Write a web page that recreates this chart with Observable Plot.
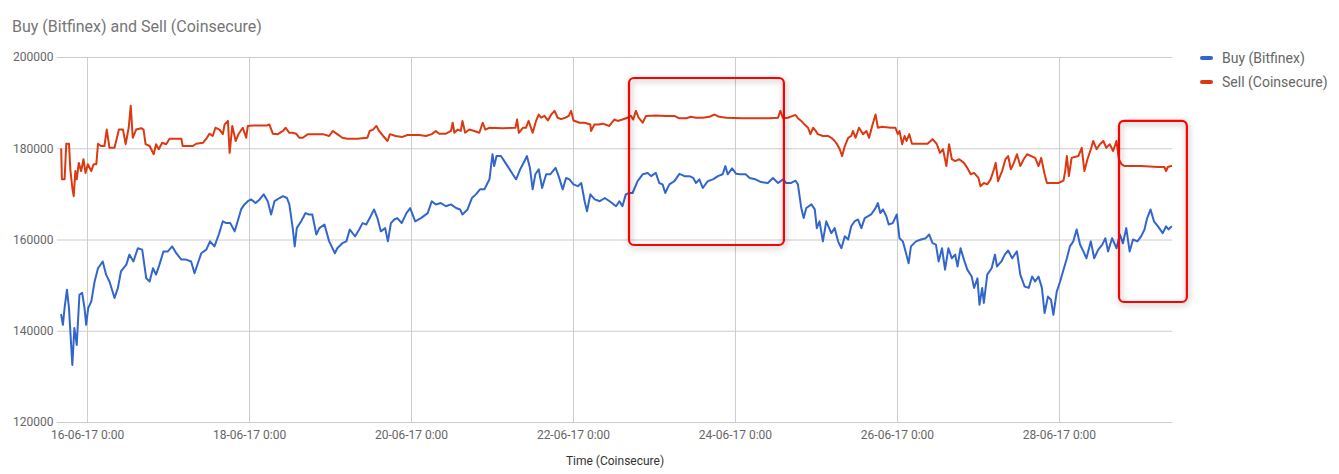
<!DOCTYPE html>
<html>
<head>
<meta charset="utf-8">
<script src="https://cdn.jsdelivr.net/npm/d3@7"></script>
<script src="https://cdn.jsdelivr.net/npm/@observablehq/plot@0.6"></script>
<style>
  body { margin: 0; background: #fff; font-family: Roboto, "Noto Sans", sans-serif; }
  #wrap { position: relative; width: 1339px; height: 474px; }
  #title { height: 40px; box-sizing: border-box; padding: 17px 0 0 12px; font-size: 16px; line-height: 20px; color: #757575; }
  .leg { position: absolute; left: 1200px; font-size: 14px; color: #666; display: flex; align-items: center; height: 18px; }
  .leg span.sw { display: inline-block; width: 13px; height: 4px; border-radius: 2px; margin-right: 9px; }
  svg g[aria-label="rect"] rect { filter: drop-shadow(1px 2px 3px rgba(0,0,0,0.35)); }
</style>
</head>
<body>
<div id="wrap">
  <div id="title"></div>
  <div id="chart"></div>
  <div id="legend"></div>
</div>
<script>
const titleText = "Buy (Bitfinex) and Sell (Coinsecure)";
const seriesNames = ["Buy (Bitfinex)", "Sell (Coinsecure)"];
const seriesColors = ["#3366cc", "#dc3912"];
const xAxisTitle = "Time (Coinsecure)";

// time origin: 16-06-17 0:00; hours below are offsets from it
const originDate = [2017, 5, 16];
const xDomainHours = [-8.9, 321.5];
const xTickHours = [0, 48, 96, 144, 192, 240, 288];
const xTickLabels = ["16-06-17 0:00", "18-06-17 0:00", "20-06-17 0:00", "22-06-17 0:00", "24-06-17 0:00", "26-06-17 0:00", "28-06-17 0:00"];
const yDomain = [120000, 200000];
const yTicks = [120000, 140000, 160000, 180000, 200000];

const buyHours = [-7.8,-7.3,-6.8,-6.1,-5.5,-4.8,-4.5,-3.9,-3.2,-2.4,-1.6,-0.9,-0.4,0.2,1.1,2.1,3.1,4.5,5.5,6.5,8.0,9.0,9.9,11.5,12.4,13.6,14.9,16.2,17.4,18.4,19.4,20.3,21.3,22.5,23.8,25.1,26.3,27.8,29.2,30.7,31.7,32.7,33.7,35.2,36.3,37.6,38.9,40.1,41.1,42.3,43.6,44.5,45.5,46.5,47.5,48.5,49.8,51.0,52.2,53.4,54.4,55.4,56.9,57.9,59.1,59.8,60.8,61.4,62.0,63.3,64.6,65.6,66.6,67.8,68.7,70.2,71.6,73.3,74.0,75.5,76.7,77.7,79.3,80.5,81.5,82.6,83.9,84.9,85.9,86.9,88.2,89.0,89.9,90.9,91.8,93.1,94.5,95.6,97.1,98.8,100.8,102.0,103.2,104.7,106.2,107.7,109.2,110.4,111.1,112.6,113.9,115.1,116.3,117.6,119.1,120.0,120.5,121.2,122.5,123.5,124.8,126.0,127.0,128.2,129.5,130.2,131.1,131.9,132.7,133.7,134.7,135.9,137.1,138.7,139.6,140.8,141.8,142.8,144.0,145.3,146.3,147.3,148.0,149.0,150.3,151.8,153.3,155.4,156.6,157.6,158.5,159.5,160.5,161.5,163.0,164.5,166.0,167.0,168.4,169.4,170.4,171.2,172.4,173.9,175.4,176.9,178.3,179.5,180.3,181.3,182.3,183.8,185.3,186.8,188.2,189.0,189.7,191.0,192.2,193.4,195.0,196.2,197.9,199.6,201.6,203.1,204.6,206.1,207.0,208.5,209.8,210.5,211.5,212.2,213.0,214.5,215.5,216.1,216.9,217.9,218.9,220.4,221.4,222.4,223.4,224.4,225.4,226.3,227.3,228.3,229.3,230.3,232.2,233.5,234.2,234.9,235.7,236.7,237.4,238.6,239.8,240.6,241.6,242.4,243.3,244.0,245.5,247.0,248.4,249.4,250.4,251.4,252.2,253.2,254.1,255.1,256.1,257.1,257.8,258.7,259.7,260.7,262.0,262.7,263.7,264.3,265.1,265.6,266.6,267.9,268.9,269.5,270.8,271.8,272.8,274.0,275.4,276.4,277.7,278.9,279.9,280.8,281.8,282.8,283.6,284.6,285.5,286.2,287.2,288.2,289.2,290.2,291.1,292.1,293.1,294.1,295.1,296.0,297.3,298.3,299.5,300.7,301.6,302.4,303.6,304.9,305.9,306.8,307.8,308.8,309.8,311.1,312.2,313.2,314.0,315.0,316.0,317.2,318.6,319.6,320.3,321.1];
const buyValues = [143600,141400,145100,149100,145100,136300,132600,140700,137000,148000,148400,145100,141400,145100,146500,150900,153800,155300,152400,150900,147300,149500,153100,154600,156800,155300,158200,157900,151600,150900,153800,152400,154600,157500,157500,158600,157100,155700,155700,155300,152700,154900,157100,157900,159700,158600,161200,164100,163700,163700,161900,164100,166700,167800,168500,168900,168100,168900,170000,168500,165600,168500,169200,169600,169200,167800,162600,158600,162600,164100,165900,165600,165600,161200,162600,163400,159700,157100,158200,159300,159700,162300,160800,162300,163700,163400,165200,166700,164800,161900,162600,159700,163700,164500,164800,163700,165900,167000,164100,164800,165900,168500,167800,168100,167400,167800,167000,166700,165600,166700,169200,170000,171100,171100,173300,178800,176200,178400,178400,177300,175800,174400,173300,175500,177300,178400,175800,171100,174400,175500,171400,174400,174400,175800,174000,171100,173600,173300,172200,171800,172500,168500,166300,170000,168900,168500,169200,168100,167400,168500,167400,170000,170300,170300,172900,174400,174700,174000,174700,172500,172200,170300,172200,172900,174500,174000,174000,173600,172500,173300,171400,172900,173300,174000,174400,176200,174400,175700,174500,174400,174400,173600,173300,172700,172500,173600,172500,173300,172500,172500,173000,172200,167000,164800,167000,167800,166700,162600,164100,159700,164100,161500,162600,159700,158200,160800,160100,163000,164100,164500,162600,164800,165600,167000,168100,165900,166700,165200,163400,163700,165600,160400,159700,157500,154900,158600,159700,160100,160400,161200,159300,159000,155300,158200,153500,158200,156000,156800,154200,158200,155700,153500,152000,149500,151600,145800,149500,146200,152400,153800,156800,154200,155300,156800,157700,156000,157500,152400,149800,149500,152000,150900,152000,149500,144000,147600,146900,143600,148700,150900,153500,156000,158600,159700,162300,159000,157500,156000,159700,156000,157900,159000,160400,157500,160400,158200,161200,159300,162600,157500,160100,159700,160800,162300,164800,166700,164100,163000,161500,163000,162300,162900];

const sellHours = [-7.8,-7.6,-6.8,-6.3,-5.5,-5.1,-4.5,-4.1,-3.6,-3.2,-2.6,-1.9,-1.2,-0.6,0.1,1.1,1.8,2.6,3.1,4.0,5.0,5.7,6.5,8.0,9.3,10.5,11.3,12.2,12.8,13.4,14.4,15.9,16.6,17.2,18.4,19.6,20.3,21.1,22.1,23.3,24.3,26.3,27.8,28.2,30.2,31.2,32.2,34.2,35.4,36.1,37.1,37.9,39.1,40.1,40.6,41.6,42.1,42.9,43.9,44.8,46.0,47.0,47.5,49.0,51.0,53.1,53.9,54.9,56.4,57.9,58.7,59.8,60.8,61.8,62.8,63.8,65.3,67.3,69.7,71.6,72.7,74.0,75.5,77.0,80.0,82.9,83.6,84.6,85.6,86.4,87.6,88.9,89.6,91.3,93.3,94.8,98.3,100.3,102.0,103.2,104.2,106.2,107.7,108.2,108.7,109.7,110.6,111.1,111.9,113.1,114.6,116.1,117.1,117.9,119.1,123.0,126.8,127.3,127.8,129.0,129.9,130.7,131.9,132.9,133.7,134.4,135.4,136.4,137.4,138.4,139.3,140.3,141.6,142.6,143.3,144.0,145.8,147.3,149.0,149.2,150.2,151.5,152.7,154.6,156.1,157.1,158.5,160.0,161.0,161.7,162.5,163.3,164.5,165.5,168.4,171.4,173.9,175.2,177.4,178.8,180.3,182.3,184.3,185.8,187.2,189.2,194.2,202.1,204.6,205.3,206.1,207.5,209.0,209.8,210.5,211.5,212.5,213.5,214.2,215.0,215.8,216.4,217.9,219.4,220.4,221.4,222.1,222.9,223.6,224.4,225.4,226.3,226.8,227.6,228.6,229.8,230.8,231.6,232.5,233.5,234.2,235.2,238.1,239.4,240.1,240.6,241.4,242.1,242.7,243.5,244.3,248.9,250.4,251.6,252.6,253.5,254.5,255.3,256.1,257.1,258.3,259.7,260.7,261.7,262.7,264.0,264.6,265.6,266.6,267.6,268.6,269.1,269.8,271.0,272.0,272.8,273.6,274.5,275.4,276.4,277.4,278.4,280.8,281.8,282.6,283.6,284.3,287.7,289.2,289.7,290.2,290.8,291.6,293.6,294.6,295.4,296.3,297.3,298.0,299.0,300.0,301.0,301.9,302.9,303.9,304.9,305.6,306.4,307.3,312.2,317.2,319.1,319.6,320.1,321.1];
const sellValues = [179900,173300,173300,181100,181100,175500,171400,169600,175100,173300,176900,175100,177700,174700,176600,175100,176600,176600,181100,180600,180600,184200,180200,180200,184200,184200,181000,184600,189400,182400,184200,184500,184200,181000,180600,178800,181000,179900,181300,181000,182200,182200,182200,180600,180600,180600,181100,181300,182400,183300,182800,184600,184200,183200,185300,186100,179100,185000,181700,183300,184600,182400,185000,185100,185100,185100,185300,183300,183200,183900,184600,183500,183500,183300,182400,182400,183200,183200,183200,182800,183900,183200,182400,182200,182200,182400,183900,184200,185000,183900,182800,181700,183200,182800,182600,183000,183000,182800,183200,183900,183300,183300,183900,185700,183500,184200,183900,186100,183500,184200,183900,183500,185700,184200,184600,184500,184600,186400,183500,184600,184600,186100,183500,186100,187500,186800,187200,186200,187500,188300,186800,186500,186800,187200,188300,186200,185700,185700,185300,183900,185300,185300,185500,185000,186400,186100,186400,186800,187200,186400,188300,186800,185700,187200,187300,187200,187200,186700,186700,187000,186800,186800,187000,187500,187000,186800,186700,186700,186800,188300,186700,186800,187200,187400,186700,186100,185300,184600,183200,184600,183900,183200,182800,182800,182400,181700,181000,179900,178400,180600,182400,182800,183900,182400,184600,183200,183900,182400,185000,187500,184600,184800,184600,184600,183200,183900,181000,182800,181700,183200,181100,181100,182100,181100,179100,179900,176200,181000,177700,177300,177700,176900,175800,174400,174700,173600,171800,172500,172200,173300,175500,176900,172900,175100,177700,178400,175500,176900,178800,176200,177700,178800,178000,176200,178000,174400,172500,172500,173000,175100,178400,174000,178000,178400,180200,175100,177700,179900,181700,179900,181000,181700,180200,181000,179500,181700,177700,176600,176200,176200,176000,176000,175100,176000,176200];

// highlight boxes (annotations)
const boxStartHours = [160.6, 305.8];
const boxEndHours = [206.5, 325.9];
const boxLowValues = [158800, 146300];
const boxHighValues = [195400, 186000];

const origin = new Date(originDate[0], originDate[1], originDate[2], 0, 0);
const toDate = h => new Date(origin.getTime() + h * 3600000);

const buy = buyHours.map((h, i) => ({t: toDate(h), v: buyValues[i]}));
const sell = sellHours.map((h, i) => ({t: toDate(h), v: sellValues[i]}));
const boxes = boxStartHours.map((h, i) => ({x1: toDate(h), x2: toDate(boxEndHours[i]), y1: boxLowValues[i], y2: boxHighValues[i]}));
const xTicks = xTickHours.map(toDate);
const tickLabelOf = d => xTickLabels[xTicks.findIndex(t => +t === +d)];

document.getElementById("title").textContent = titleText;

const chart = Plot.plot({
  width: 1339,
  height: 434,
  marginLeft: 57,
  marginRight: 167,
  marginTop: 17,
  marginBottom: 52,
  style: {fontFamily: "Roboto, sans-serif", fontSize: "12px", color: "#666", background: "white", overflow: "visible"},
  x: {type: "time", domain: xDomainHours.map(toDate)},
  y: {domain: yDomain},
  marks: [
    Plot.gridY(yTicks, {stroke: "#cccccc", strokeOpacity: 1}),
    Plot.gridX(xTicks, {stroke: "#cccccc", strokeOpacity: 1}),
    Plot.axisY(yTicks, {tickSize: 0, tickPadding: 4, label: null, tickFormat: d3.format("d"), fill: "#666"}),
    Plot.axisX(xTicks, {tickSize: 0, tickPadding: 8, label: null, tickFormat: tickLabelOf, fill: "#666"}),
    Plot.text([xAxisTitle], {frameAnchor: "bottom", dy: 42, fill: "#333", fontSize: 12}),
    Plot.line(buy, {x: "t", y: "v", stroke: seriesColors[0], strokeWidth: 2, strokeLinejoin: "round"}),
    Plot.line(sell, {x: "t", y: "v", stroke: seriesColors[1], strokeWidth: 2, strokeLinejoin: "round"}),
    Plot.rect(boxes, {x1: "x1", x2: "x2", y1: "y1", y2: "y2", fill: "none", stroke: "#ff0000", strokeWidth: 2.2, rx: 5})
  ]
});
document.getElementById("chart").appendChild(chart);

const legend = document.getElementById("legend");
const legendTops = [49, 73];
seriesNames.forEach((name, i) => {
  const item = document.createElement("div");
  item.className = "leg";
  item.style.top = legendTops[i] + "px";
  const sw = document.createElement("span");
  sw.className = "sw";
  sw.style.background = seriesColors[i];
  item.appendChild(sw);
  item.appendChild(document.createTextNode(name));
  legend.appendChild(item);
});
</script>
</body>
</html>
